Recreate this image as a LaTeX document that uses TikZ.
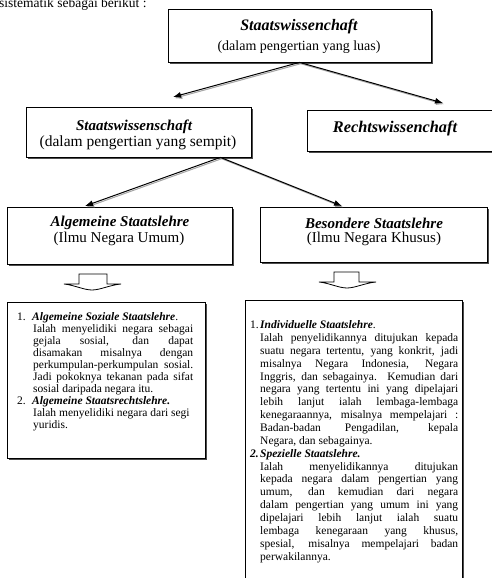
\documentclass[tikz,border=0pt]{standalone}
\usepackage{fontspec}
\setmainfont{Liberation Serif}
\usetikzlibrary{shadows,arrows.meta,calc}
\newcommand{\jl}[2]{\makebox[#1][s]{#2}}
\newcommand{\bi}[1]{\textbf{\textit{#1}}}
\begin{document}
\begin{tikzpicture}[x=1pt,y=-1pt,
  hbox/.style={draw=black, line width=0.8pt, fill=white, inner sep=0pt,
    drop shadow={shadow xshift=1.8pt,shadow yshift=-1.8pt,fill=black!70,opacity=1}},
  ttl/.style={inner sep=0pt, font=\fontsize{15}{17}\selectfont\bfseries\itshape},
  sub/.style={inner sep=0pt, font=\fontsize{14}{16}\selectfont},
  body/.style={inner sep=0pt, anchor=base west, align=left, font=\fontsize{11.5}{12}\selectfont},
  conn/.style={line width=1pt, -{Latex[length=8pt,width=6pt]}},
  connsh/.style={line width=1pt, draw=black!35, -{Latex[length=8pt,width=6pt]}, fill=black!35,
    transform canvas={xshift=1.2pt,yshift=-1.3pt}},
  darrow/.style={draw=black, line width=0.8pt, fill=white}
]
\useasboundingbox (0,0) rectangle (491,578);

% cropped sentence at top
\node[inner sep=0pt, anchor=base west, font=\fontsize{13.5}{16}\selectfont] (intro) at (-1,8) {sistematik sebagai berikut :};

% header boxes
\node[hbox, minimum width=263pt, minimum height=53pt] (top) at (299.5,35.5) {};
\node[ttl, font=\fontsize{16}{18}\selectfont\bfseries\itshape] (topT) at (299,27) {Staatswissenchaft};
\node[sub] (topS) at (299,47) {(dalam pengertian yang luas)};

\node[hbox, minimum width=225pt, minimum height=50pt] (semp) at (138.5,132) {};
\node[ttl] (sempT) at (134,127) {Staatswissenschaft};
\node[sub, font=\fontsize{15.5}{17}\selectfont] (sempS) at (138,143) {(dalam pengertian yang sempit)};

\node[hbox, minimum width=190pt, minimum height=41pt] (recht) at (402,130.5) {};
\node[ttl, font=\fontsize{16.3}{18}\selectfont\bfseries\itshape] (rechtT) at (395,128) {Rechtswissenchaft};

\node[hbox, minimum width=225pt, minimum height=57pt] (alg) at (119.5,235.5) {};
\node[ttl] (algT) at (120,223) {Algemeine Staatslehre};
\node[sub, font=\fontsize{15}{17}\selectfont] (algS) at (119,239) {(Ilmu Negara Umum)};

\node[hbox, minimum width=227pt, minimum height=55pt] (bes) at (373.5,234.5) {};
\node[ttl] (besT) at (374,223) {Besondere Staatslehre};
\node[sub, font=\fontsize{15}{17}\selectfont] (besS) at (374,239) {(Ilmu Negara Khusus)};

% connectors
\coordinate (a1) at (173,97);
\coordinate (a2) at (443,103);
\coordinate (s0) at ([xshift=-31pt]semp.south east);
\coordinate (a3) at (85,206);
\coordinate (a4) at (342,206);
\draw[connsh] (top.south) -- (a1);
\draw[connsh] (top.south) -- (a2);
\draw[connsh] (s0) -- (a3);
\draw[connsh] (s0) -- (a4);
\draw[conn] (top.south) -- (a1);
\draw[conn] (top.south) -- (a2);
\draw[conn] (s0) -- (a3);
\draw[conn] (s0) -- (a4);

% block down arrows
\draw[darrow] (64,284) -- (79,284) -- (79,274) -- (107,274) -- (107,284) -- (121,284)
  .. controls (110,285) and (100,290) .. (92,290) .. controls (84,290) and (74,285) .. cycle;
\draw[darrow] (319,282) -- (334,282) -- (334,272) -- (359,272) -- (359,282) -- (376,282)
  .. controls (365,283) and (355,288) .. (347,288) .. controls (339,288) and (329,283) .. cycle;

% text boxes
\node[hbox, minimum width=198pt, minimum height=156pt] (lbox) at (106,380) {};
\node[hbox, minimum width=217pt, minimum height=290pt] (rbox) at (353.5,445) {};

\node[body] (ltext) at (17,428) {%
\makebox[15pt][l]{1.}\bi{Algemeine Soziale Staatslehre}.\\
\hspace*{16pt}\jl{160pt}{Ialah menyelidiki negara sebagai}\\
\hspace*{16pt}\jl{160pt}{gejala sosial, dan dapat}\\
\hspace*{16pt}\jl{160pt}{disamakan misalnya dengan}\\
\hspace*{16pt}\jl{160pt}{perkumpulan-perkumpulan sosial.}\\
\hspace*{16pt}\jl{160pt}{Jadi pokoknya tekanan pada sifat}\\
\hspace*{16pt}sosial daripada negara itu.\\
\makebox[15pt][l]{2.}\bi{Algemeine Staatsrechtslehre.}\\
\hspace*{16pt}Ialah menyelidiki negara dari segi\\
\hspace*{16pt}yuridis.};

\node[body, font=\fontsize{11.5}{12.85}\selectfont] (rtext) at (250,560) {%
\makebox[10pt][l]{1.}\bi{Individuelle Staatslehre}.\\
\hspace*{10pt}\jl{198pt}{Ialah penyelidikannya ditujukan kepada}\\
\hspace*{10pt}\jl{198pt}{suatu negara tertentu, yang konkrit, jadi}\\
\hspace*{10pt}\jl{198pt}{misalnya Negara Indonesia, Negara}\\
\hspace*{10pt}\jl{198pt}{Inggris, dan sebagainya. Kemudian dari}\\
\hspace*{10pt}\jl{198pt}{negara yang tertentu ini yang dipelajari}\\
\hspace*{10pt}\jl{198pt}{lebih lanjut ialah lembaga-lembaga}\\
\hspace*{10pt}\jl{198pt}{kenegaraannya, misalnya mempelajari :}\\
\hspace*{10pt}\jl{198pt}{Badan-badan Pengadilan, kepala}\\
\hspace*{10pt}Negara, dan sebagainya.\\
\makebox[10pt][l]{\bi{2.}}\bi{Spezielle Staatslehre.}\\
\hspace*{10pt}\jl{198pt}{Ialah menyelidikannya ditujukan}\\
\hspace*{10pt}\jl{198pt}{kepada negara dalam pengertian yang}\\
\hspace*{10pt}\jl{198pt}{umum, dan kemudian dari negara}\\
\hspace*{10pt}\jl{198pt}{dalam pengertian yang umum ini yang}\\
\hspace*{10pt}\jl{198pt}{dipelajari lebih lanjut ialah suatu}\\
\hspace*{10pt}\jl{198pt}{lembaga kenegaraan yang khusus,}\\
\hspace*{10pt}\jl{198pt}{spesial, misalnya mempelajari badan}\\
\hspace*{10pt}perwakilannya.};
\end{tikzpicture}
\end{document}
